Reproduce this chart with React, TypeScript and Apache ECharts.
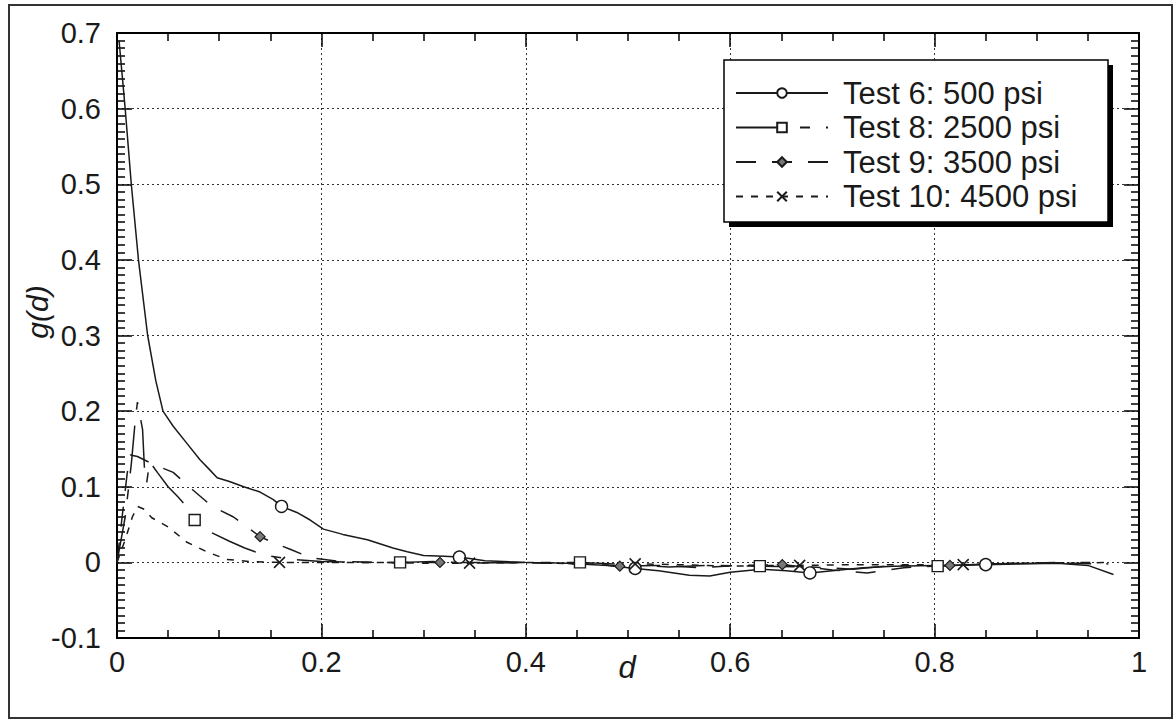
import React, { useEffect, useRef } from "react";
import * as echarts from "echarts";

const FONT = "'Liberation Sans', Arial, Helvetica, sans-serif";

// x ticks and y ticks
const xTicks = [0, 0.2, 0.4, 0.6, 0.8, 1];
const yTicks = [-0.1, 0, 0.1, 0.2, 0.3, 0.4, 0.5, 0.6, 0.7];

const seriesNames = [
  "Test 6: 500 psi",
  "Test 8: 2500 psi",
  "Test 9: 3500 psi",
  "Test 10: 4500 psi",
];

// [d, g(d)]
const test6: [number, number][] = [
  [0.002, 0.69], [0.008, 0.6], [0.014, 0.5], [0.021, 0.4], [0.03, 0.3], [0.038, 0.24],
  [0.045, 0.2], [0.055, 0.18], [0.068, 0.158], [0.081, 0.136], [0.091, 0.122],
  [0.098, 0.112], [0.11, 0.107], [0.124, 0.1], [0.14, 0.093], [0.153, 0.083],
  [0.161, 0.074], [0.176, 0.066], [0.189, 0.056], [0.202, 0.044], [0.221, 0.037],
  [0.245, 0.03], [0.27, 0.019], [0.284, 0.014], [0.3, 0.009], [0.32, 0.008],
  [0.335, 0.007], [0.36, 0.002], [0.4, 0.0], [0.44, -0.001], [0.48, -0.004],
  [0.507, -0.008], [0.53, -0.011], [0.56, -0.017], [0.58, -0.018], [0.6, -0.013],
  [0.63, -0.009], [0.655, -0.011], [0.678, -0.014], [0.7, -0.011], [0.73, -0.007],
  [0.76, -0.005], [0.8, -0.004], [0.85, -0.003], [0.88, -0.002], [0.92, -0.001],
  [0.95, -0.004], [0.975, -0.016],
];
const test6Markers = [0.161, 0.335, 0.507, 0.678, 0.85];

const test8: [number, number][] = [
  [0, 0], [0.008, 0.06], [0.014, 0.13], [0.018, 0.19], [0.02, 0.212], [0.025, 0.176],
  [0.027, 0.12], [0.029, 0.105], [0.032, 0.133], [0.04, 0.118], [0.05, 0.1],
  [0.06, 0.086], [0.068, 0.074], [0.076, 0.056], [0.093, 0.039], [0.11, 0.028],
  [0.125, 0.019], [0.143, 0.01], [0.17, 0.004], [0.2, 0.001], [0.24, 0.0],
  [0.277, 0.0], [0.31, 0.001], [0.35, -0.001], [0.4, 0.0], [0.453, 0.0],
  [0.5, -0.003], [0.54, -0.006], [0.58, -0.004], [0.629, -0.005], [0.68, -0.006],
  [0.72, -0.009], [0.76, -0.004], [0.803, -0.005], [0.85, -0.002], [0.9, -0.001],
  [0.95, 0.0], [0.97, -0.002],
];
const test8Markers = [0.076, 0.277, 0.453, 0.629, 0.803];

const test9: [number, number][] = [
  [0, 0], [0.005, 0.06], [0.01, 0.118], [0.013, 0.142], [0.02, 0.14], [0.035, 0.13],
  [0.055, 0.119], [0.074, 0.096], [0.093, 0.074], [0.114, 0.06], [0.14, 0.034],
  [0.153, 0.026], [0.17, 0.017], [0.19, 0.006], [0.22, 0.001], [0.26, 0.0],
  [0.316, 0.0], [0.36, 0.0], [0.42, -0.001], [0.46, -0.002], [0.492, -0.005],
  [0.53, -0.004], [0.57, -0.007], [0.61, -0.004], [0.651, -0.003], [0.7, -0.01],
  [0.734, -0.014], [0.77, -0.007], [0.815, -0.004], [0.86, -0.002], [0.92, 0.0],
  [0.96, -0.002],
];
const test9Markers = [0.14, 0.316, 0.492, 0.651, 0.815];

const test10: [number, number][] = [
  [0, 0], [0.008, 0.03], [0.015, 0.06], [0.02, 0.074], [0.027, 0.07], [0.034, 0.059],
  [0.05, 0.047], [0.068, 0.027], [0.088, 0.014], [0.107, 0.004], [0.13, 0.001],
  [0.159, 0.0], [0.2, 0.0], [0.25, 0.0], [0.3, -0.001], [0.345, -0.001], [0.4, 0.0],
  [0.45, -0.002], [0.507, -0.002], [0.55, -0.003], [0.6, -0.005], [0.64, -0.004],
  [0.668, -0.004], [0.72, -0.003], [0.78, -0.003], [0.828, -0.003], [0.88, -0.001],
  [0.94, -0.001], [0.97, 0.0],
];
const test10Markers = [0.159, 0.345, 0.507, 0.668, 0.828];

const INK = "#1a1a1a";

function build(points: [number, number][], markers: number[]) {
  return points.map(([d, g]) =>
    markers.includes(d) ? { value: [d, g] } : { value: [d, g], symbol: "none" }
  );
}

function makeXAxis(top: boolean) {
  return {
    type: "value",
    min: xTicks[0],
    max: xTicks[xTicks.length - 1],
    interval: 0.2,
    position: top ? "top" : "bottom",
    axisLine: { show: true, onZero: false, lineStyle: { color: "#000", width: 2 } },
    axisTick: { show: true, inside: true, length: 14, lineStyle: { color: "#000", width: 1.5 } },
    minorTick: { show: true, splitNumber: 4, length: 8, lineStyle: { color: "#000", width: 1.5 } },
    axisLabel: {
      show: !top,
      color: INK,
      fontSize: 29,
      fontFamily: FONT,
      margin: 9,
      formatter: (v: number) => String(Math.round(v * 10) / 10),
    },
    splitLine: top
      ? { show: false }
      : { show: true, lineStyle: { color: "#333", width: 1, type: [2, 3] } },
  };
}

function makeYAxis(right: boolean) {
  return {
    type: "value",
    min: yTicks[0],
    max: yTicks[yTicks.length - 1],
    interval: 0.1,
    position: right ? "right" : "left",
    axisLine: { show: true, onZero: false, lineStyle: { color: "#000", width: 2 } },
    axisTick: { show: true, inside: true, length: 15, lineStyle: { color: "#000", width: 1.5 } },
    minorTick: { show: true, splitNumber: 10, length: 8, lineStyle: { color: "#000", width: 1.5 } },
    axisLabel: {
      show: !right,
      color: INK,
      fontSize: 29,
      fontFamily: FONT,
      margin: 16,
      formatter: (v: number) => {
        const r = Math.round(v * 10) / 10;
        return r === 0 ? "0" : r.toFixed(1);
      },
    },
    splitLine: right
      ? { show: false }
      : { show: true, lineStyle: { color: "#333", width: 1, type: [2, 3] } },
  };
}

export default function App() {
  const ref = useRef<HTMLDivElement>(null);

  useEffect(() => {
    if (!ref.current) return;
    const chart = echarts.init(ref.current, null, { renderer: "svg" });

    const common = {
      type: "line",
      xAxisIndex: 0,
      yAxisIndex: 0,
      showAllSymbol: true,
      smooth: false,
    };

    chart.setOption({
      animation: false,
      backgroundColor: "#fff",
      grid: { left: 117, right: 37, top: 33, bottom: 83, containLabel: false },
      xAxis: [makeXAxis(false), makeXAxis(true)],
      yAxis: [makeYAxis(false), makeYAxis(true)],
      legend: {
        show: true,
        orient: "vertical",
        left: 735,
        top: 77,
        itemWidth: 92,
        itemHeight: 12,
        itemGap: 2.5,
        padding: 0,
        data: seriesNames,
        textStyle: {
          color: INK,
          fontSize: 31,
          fontFamily: FONT,
          lineHeight: 32,
          padding: [0, 0, 0, 10],
        },
        z: 5,
      },
      graphic: [
        {
          type: "rect",
          z: 0,
          shape: { x: 9, y: 5, width: 1163, height: 713 },
          style: { fill: "none", stroke: "#333", lineWidth: 2 },
          silent: true,
        },
        {
          type: "rect",
          z: 3,
          shape: { x: 729, y: 65, width: 384, height: 162 },
          style: { fill: "#000" },
          silent: true,
        },
        {
          type: "rect",
          z: 3,
          shape: { x: 724, y: 60, width: 384, height: 162 },
          style: { fill: "#fff", stroke: "#000", lineWidth: 1.5 },
          silent: true,
        },
        {
          type: "text",
          z: 4,
          x: 627,
          y: 667,
          style: {
            text: "d",
            fill: INK,
            font: `italic 31px ${FONT}`,
            align: "center",
            verticalAlign: "middle",
          },
          silent: true,
        },
        {
          type: "text",
          z: 4,
          x: 37,
          y: 312,
          rotation: Math.PI / 2,
          style: {
            text: "g(d)",
            fill: INK,
            font: `italic 30px ${FONT}`,
            align: "center",
            verticalAlign: "middle",
          },
          silent: true,
        },
      ],
      series: [
        {
          ...common,
          name: seriesNames[0],
          data: build(test6, test6Markers),
          symbol: "circle",
          symbolSize: 12,
          lineStyle: { color: INK, width: 1.5, type: "solid" },
          itemStyle: { color: "#fff", borderColor: INK, borderWidth: 1.4 },
        },
        {
          ...common,
          name: seriesNames[1],
          data: build(test8, test8Markers),
          symbol: "rect",
          symbolSize: 11,
          lineStyle: { color: INK, width: 1.5, type: [48, 16, 10, 16] },
          itemStyle: { color: "#fff", borderColor: INK, borderWidth: 1.4 },
        },
        {
          ...common,
          name: seriesNames[2],
          data: build(test9, test9Markers),
          symbol: "diamond",
          symbolSize: 10,
          lineStyle: { color: INK, width: 1.5, type: [20, 16] },
          itemStyle: { color: "#777", borderColor: INK, borderWidth: 1.2 },
        },
        {
          ...common,
          name: seriesNames[3],
          data: build(test10, test10Markers),
          symbol: "path://M0,0L10,10M0,10L10,0",
          symbolSize: 11,
          lineStyle: { color: INK, width: 1.5, type: [7, 8] },
          itemStyle: { color: "none", borderColor: INK, borderWidth: 1.5 },
        },
      ],
    });

    return () => chart.dispose();
  }, []);

  return (
    <div
      ref={ref}
      style={{ position: "fixed", left: 0, top: 0, width: 1176, height: 721, background: "#fff" }}
    />
  );
}
